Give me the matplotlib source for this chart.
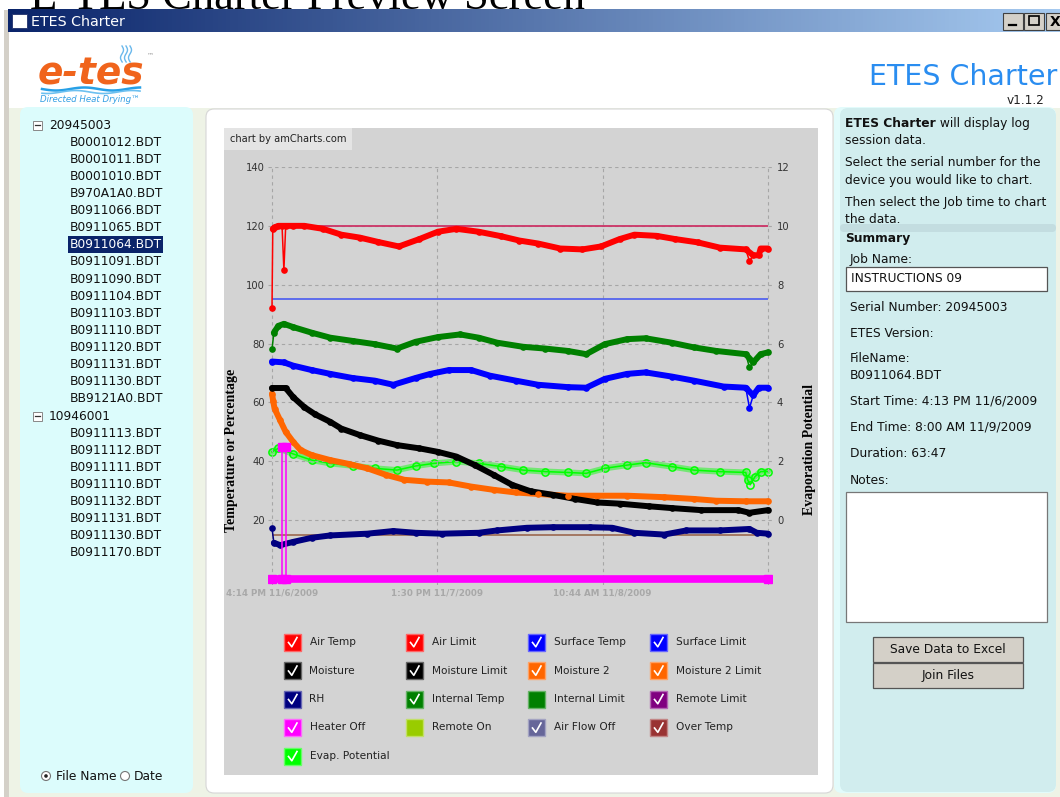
import numpy as np
import matplotlib.pyplot as plt
from matplotlib.patches import Rectangle, FancyBboxPatch, Circle
from matplotlib.colors import LinearSegmentedColormap, to_rgb

plt.rcParams['font.family'] = ['DejaVu Sans']

# time axis in hours after 4:14 PM 11/6/2009
x_ticks = [0, 21.27, 42.5, 63.77]
x_labels = ['4:14 PM 11/6/2009', '1:30 PM 11/7/2009', '10:44 AM 11/8/2009', '']
left_ticks = [20, 40, 60, 80, 100, 120, 140]
right_ticks = [0, 2, 4, 6, 8, 10, 12]

# series
air_t = [0, 0.1, 0.33, 0.81, 1.29, 1.53, 1.76, 2.72, 4.15, 6.53, 8.92, 11.3, 13.69, 16.31, 18.94, 21.32, 23.71, 26.57,
         29.43, 31.82, 34.2, 37.06, 39.92, 42.31, 44.69, 46.6, 49.46, 51.85, 54.71, 57.57, 60.91, 61.39, 61.87, 62.58,
         62.82, 63.77]
air_temp = [92, 119, 119.5, 120, 120, 105, 120, 120, 120, 119, 117, 116, 114.5, 113, 115.5, 118, 119, 118, 116.5, 115,
            114, 112.3, 112, 113, 115.5, 117, 116.6, 115.5, 114.4, 112.6, 112, 108, 110, 110, 112.3, 112.3]

int_t = [0, 0.24, 0.81, 1.53, 2.72, 5.1, 7.49, 10.35, 13.21, 16.07, 18.46, 21.32, 24.18, 26.57, 28.95, 32.29, 35.15,
         38.02, 40.4, 42.79, 45.65, 48.03, 51.37, 54.24, 57.1, 60.91, 61.39, 61.87, 62.82, 63.77]
internal_temp = [78, 83.7, 86, 86.7, 85.6, 83.7, 82, 80.9, 79.8, 78.3, 80.6, 82.2, 83.1, 82, 80.3, 78.9, 78.3, 77.5,
                 76.4, 79.8, 81.5, 81.8, 80.3, 78.7, 77.5, 76.4, 71.9, 73.6, 76.4, 77]

surf_t = [0, 1.53, 2.72, 5.1, 7.49, 10.35, 13.21, 15.6, 18.46, 20.37, 22.75, 25.61, 28, 31.34, 34.2, 38.02, 40.4,
          42.79, 45.65, 48.03, 51.37, 54.24, 58.05, 60.91, 61.39, 61.87, 62.58, 63.77]
surface_temp = [73.9, 73.6, 72.5, 71, 69.7, 68.3, 67.4, 66, 68.3, 69.7, 71, 71, 69.1, 67.4, 66, 65.2, 65, 68, 69.7,
                70.2, 68.8, 67.4, 65.4, 65, 58.1, 62.4, 65, 65]

moist_t = [0, 1.76, 2.72, 4.15, 5.58, 7.49, 8.92, 11.3, 13.69, 16.07, 18.94, 21.32, 23.71, 26.09, 28.48, 30.86, 33.25,
           36.11, 38.97, 41.83, 44.69, 48.51, 51.37, 55.19, 59.96, 61.39, 63.77]
moisture = [64.9, 64.9, 61.8, 58.4, 55.9, 53.4, 51.1, 48.9, 47, 45.5, 44.4, 43.2, 41.6, 38.7, 35.4, 32, 29.8, 28.6,
            27.2, 26, 25.6, 24.7, 24.1, 23.4, 23.4, 22.5, 23.4]

m2_t = [0, 0.15, 0.33, 1.05, 1.76, 2.72, 3.67, 5.1, 7.49, 9.87, 12.26, 14.64, 17.03, 19.89, 22.75, 25.61, 28.48,
        31.34, 34.2, 38.02, 41.83, 45.65, 50.42, 54.24, 57.1, 60.91, 63.77]
moisture2 = [63, 60.5, 57.9, 53.9, 50, 46.6, 43.8, 42.1, 40.4, 39.1, 37.6, 35.4, 33.7, 33.1, 32.8, 31.4, 30.3, 29.4,
             28.9, 28.3, 28.3, 28.3, 27.8, 27.2, 26.6, 26.4, 26.4]

rh_t = [0, 0.24, 1.05, 2.72, 5.1, 7.49, 12.26, 15.6, 18.46, 21.8, 26.57, 28.95, 32.77, 36.11, 40.88, 43.74, 46.6,
        50.42, 53.28, 57.57, 61.39, 62.34, 63.77]
rh = [17.4, 12.3, 11.5, 12.6, 14, 14.8, 15.4, 16.3, 15.7, 15.4, 15.7, 16.5, 17.4, 17.6, 17.6, 17.4, 15.7, 15.1, 16.5,
      16.5, 17, 15.7, 15.4]

evap_t = [0, 0.81, 2.72, 5.1, 7.49, 10.35, 13.21, 16.07, 18.46, 20.84, 23.71, 26.57, 29.43, 32.29, 35.15, 38.02, 40.4,
          42.79, 45.65, 48.03, 51.37, 54.24, 57.57, 60.91, 61.15, 61.48, 62.1, 62.82, 63.77]
evap = [2.32, 2.44, 2.25, 2.04, 1.93, 1.85, 1.76, 1.7, 1.84, 1.93, 1.99, 1.93, 1.82, 1.7, 1.65, 1.62, 1.59, 1.76,
        1.87, 1.95, 1.82, 1.7, 1.65, 1.62, 1.37, 1.2, 1.48, 1.65, 1.65]

heater_t = [0, 1.3, 1.3, 1.75, 1.75, 63.77]
heater_off = [0, 0, 45, 45, 0, 0]

air_limit = 120
surface_limit = 95
over_temp = 15

legend_labels = ['Air Temp', 'Air Limit', 'Surface Temp', 'Surface Limit',
                 'Moisture', 'Moisture Limit', 'Moisture 2', 'Moisture 2 Limit',
                 'RH', 'Internal Temp', 'Internal Limit', 'Remote Limit',
                 'Heater Off', 'Remote On', 'Air Flow Off', 'Over Temp',
                 'Evap. Potential']
legend_colors = ['#ff0000', '#ff0000', '#0000ff', '#0000ff',
                 '#000000', '#000000', '#ff6600', '#ff6600',
                 '#000080', '#008000', '#008000', '#800080',
                 '#ff00ff', '#99cc00', '#666699', '#993333',
                 '#00ff00']
legend_checked = [1, 1, 1, 1, 1, 1, 1, 1, 1, 1, 0, 1, 1, 0, 1, 1, 1]

serial_a = '20945003'
files_a = ['B0001012.BDT', 'B0001011.BDT', 'B0001010.BDT', 'B970A1A0.BDT', 'B0911066.BDT', 'B0911065.BDT',
           'B0911064.BDT', 'B0911091.BDT', 'B0911090.BDT', 'B0911104.BDT', 'B0911103.BDT', 'B0911110.BDT',
           'B0911120.BDT', 'B0911131.BDT', 'B0911130.BDT', 'BB9121A0.BDT']
serial_b = '10946001'
files_b = ['B0911113.BDT', 'B0911112.BDT', 'B0911111.BDT', 'B0911110.BDT', 'B0911132.BDT', 'B0911131.BDT',
           'B0911130.BDT', 'B0911170.BDT']
selected_file = 'B0911064.BDT'

W, H = 1060, 797
FS = 8.8  # ui font size


def lone_points(v, tol):
    # single outlying readings get a thin line instead of the thick band
    v = np.asarray(v, float)
    lone = np.zeros(len(v), bool)
    lone[0] = abs(v[0] - v[1]) > 2.5 * tol
    for i in range(1, len(v) - 1):
        a, b = v[i] - v[i - 1], v[i] - v[i + 1]
        lone[i] = a * b > 0 and min(abs(a), abs(b)) > tol
    return lone


def draw_series(axis, t, v, color, tol=1.6, hollow=False):
    t = np.asarray(t, float)
    v = np.asarray(v, float)
    keep = ~lone_points(v, tol)
    axis.plot(t, v, color=color, lw=1.1, zorder=3)
    if hollow:
        axis.plot(t[keep], v[keep], color=color, lw=4.4, alpha=0.45, solid_capstyle='round', zorder=3)
        axis.plot(t, v, ls='none', marker='o', ms=5.2, mfc='none', mec=color, mew=1.1, zorder=4)
    else:
        axis.plot(t[keep], v[keep], color=color, lw=4.3, solid_capstyle='round', solid_joinstyle='round', zorder=3)
        axis.plot(t, v, ls='none', marker='o', ms=4.8, mew=0, color=color, zorder=4)


def lighter(c, f=0.4):
    r, g, b = to_rgb(c)
    return (r + (1 - r) * f, g + (1 - g) * f, b + (1 - b) * f)


fig = plt.figure(figsize=(W / 100, H / 100), dpi=100)
bg = fig.add_axes([0, 0, 1, 1])
bg.set_xlim(0, W)
bg.set_ylim(H, 0)
bg.axis('off')

# page heading, mostly hidden behind the window
bg.text(30, 8.5, 'E-TES Charter Preview Screen', family='Liberation Serif', fontsize=32, va='baseline', zorder=1)

# window frame and body
bg.add_patch(Rectangle((4, 9.5), W - 4, H, fc='#d4d0c8', ec='none', zorder=2))
bg.add_patch(Rectangle((9, 32), W - 9, H, fc='#eef3e6', ec='none', zorder=2))
bg.add_patch(Rectangle((9, 32), W - 9, 76, fc='white', ec='none', zorder=2))

# title bar
tb = LinearSegmentedColormap.from_list('tb', ['#0a246a', '#a6caf0'])
bg.imshow(np.linspace(0, 1, 256)[None, :], cmap=tb, extent=(8, W, 32, 9.5), aspect='auto', zorder=2)
bg.add_patch(Rectangle((12, 13.5), 15, 14, fc='white', ec='#20306a', lw=0.6, zorder=3))
bg.text(31, 21.5, 'ETES Charter', color='white', fontsize=10.3, va='center', zorder=3)
for x0 in (1003, 1024, 1046):
    bg.add_patch(Rectangle((x0, 12.5), 20, 17, fc='#d4d0c8', ec='#404040', lw=0.8, zorder=3))
bg.plot([1009, 1016], [25, 25], color='black', lw=1.6, zorder=4)
bg.add_patch(Rectangle((1029, 16), 10, 9, fc='none', ec='black', lw=1.2, zorder=4))
bg.text(1050, 21.5, 'X', fontsize=10, fontweight='bold', va='center', zorder=4)

# logo
bg.text(38, 74, 'e-tes', fontsize=27, fontweight='bold', style='italic', color='#f0641c', va='center', zorder=3)
wx = np.linspace(42, 140, 60)
bg.plot(wx, 89 + 1.5 * np.sin((wx - 42) / 9), color='#27a0e6', lw=1.8, zorder=3)
bg.plot(wx, 92 + 1.5 * np.sin((wx - 42) / 9 + 1), color='#6cc0f0', lw=1.2, zorder=3)
for dx in (0, 4, 8):
    sy = np.linspace(46, 62, 20)
    bg.plot(122 + dx + 1.5 * np.sin((sy - 46) / 2.5), sy, color='#6ab8ec', lw=1, zorder=3)
bg.text(147, 57, '™', fontsize=5, color='#999', zorder=3)
bg.text(40, 99.5, 'Directed Heat Drying™', fontsize=6.2, style='italic', color='#36a0e4', va='center', zorder=3)

# heading right
bg.text(1057, 77, 'ETES Charter', ha='right', va='center', fontsize=20.5, color='#2a8df0', zorder=3)
bg.text(1045, 100, 'v1.1.2', ha='right', va='center', fontsize=8.7, color='#222', zorder=3)

# left panel with the file tree
bg.add_patch(FancyBboxPatch((20, 107), 173, 686, boxstyle='round,pad=0,rounding_size=8',
                            fc='#dcfcfc', ec='none', zorder=2))
rows = [(serial_a, True)] + [(f, False) for f in files_a] + [(serial_b, True)] + [(f, False) for f in files_b]
for i, (name, is_serial) in enumerate(rows):
    y = 125 + i * 17.12
    if is_serial:
        bg.add_patch(Rectangle((33, y - 4.5), 9, 9, fc='white', ec='#888', lw=0.7, zorder=3))
        bg.plot([35, 40], [y, y], color='#333', lw=0.9, zorder=4)
        bg.text(49, y, name, fontsize=FS, va='center', color='#111', zorder=4)
    else:
        col = '#111'
        if name == selected_file and i < len(files_a) + 1:
            bg.add_patch(Rectangle((68, y - 8.5), 95, 17, fc='#0a246a', ec='none', zorder=3))
            col = 'white'
        bg.text(70, y, name, fontsize=FS, va='center', color=col, zorder=4)

bg.add_patch(Circle((46, 776), 4.5, fc='white', ec='#777', lw=0.8, zorder=3))
bg.add_patch(Circle((46, 776), 1.8, fc='#222', ec='none', zorder=4))
bg.text(56, 777, 'File Name', fontsize=FS, va='center', color='#111', zorder=4)
bg.add_patch(Circle((125, 776), 4.5, fc='white', ec='#777', lw=0.8, zorder=3))
bg.text(134, 777, 'Date', fontsize=FS, va='center', color='#111', zorder=4)

# chart card
bg.add_patch(FancyBboxPatch((206, 109), 627, 684, boxstyle='round,pad=0,rounding_size=8',
                            fc='white', ec='#d6d6d6', lw=0.8, zorder=2))
bg.add_patch(Rectangle((224, 128), 594, 647, fc='#d3d3d3', ec='none', zorder=2))
bg.add_patch(Rectangle((224, 128), 128, 22, fc='#e4e4e4', ec='none', zorder=3))
bg.text(230, 139, 'chart by amCharts.com', fontsize=7.1, va='center', color='#222', zorder=4)

# legend
for i, (lab, c, chk) in enumerate(zip(legend_labels, legend_colors, legend_checked)):
    x0 = 284 + (i % 4) * 122
    yc = 642 + (i // 4) * 28.5
    bg.add_patch(Rectangle((x0, yc - 8.5), 17, 17, fc=c, ec=lighter(c), lw=1, zorder=3))
    if chk:
        bg.plot([x0 + 4.5, x0 + 7.8, x0 + 13], [yc + 0.5, yc + 4.8, yc - 4.5], color='white', lw=1.2, zorder=4)
    bg.text(x0 + 25.5, yc, lab, fontsize=7.6, va='center', color='#222', zorder=4)

# right panel
bg.add_patch(FancyBboxPatch((834, 107), 222, 686, boxstyle='round,pad=0,rounding_size=8',
                            fc='#e2fbfb', ec='none', zorder=2))
bg.add_patch(FancyBboxPatch((840, 108), 216, 684, boxstyle='round,pad=0,rounding_size=8',
                            fc='#d1edee', ec='none', zorder=2))
bg.add_patch(FancyBboxPatch((840, 224), 216, 8, boxstyle='round,pad=0,rounding_size=4',
                            fc='#c3dde0', ec='none', zorder=3))
t1 = bg.text(845, 123, 'ETES Charter', fontsize=FS, fontweight='bold', va='center', color='#111', zorder=4)
bg.annotate(' will display log', xy=(1, 0.5), xycoords=t1, va='center', fontsize=FS, color='#111', zorder=4)
for y, s in [(140, 'session data.'), (162, 'Select the serial number for the'),
             (180, 'device you would like to chart.'), (202, 'Then select the Job time to chart'),
             (219, 'the data.')]:
    bg.text(845, y, s, fontsize=FS, va='center', color='#111', zorder=4)
bg.text(845, 238, 'Summary', fontsize=FS, fontweight='bold', va='center', color='#111', zorder=4)
bg.text(850, 260, 'Job Name:', fontsize=FS, va='center', color='#111', zorder=4)
bg.add_patch(Rectangle((846, 267), 201, 24, fc='white', ec='#555', lw=0.9, zorder=3))
bg.text(851, 279, 'INSTRUCTIONS 09', fontsize=FS, va='center', color='#111', zorder=4)
for y, s in [(307, 'Serial Number: 20945003'), (333, 'ETES Version:'), (358, 'FileName:'),
             (375, 'B0911064.BDT'), (401, 'Start Time: 4:13 PM 11/6/2009'),
             (427, 'End Time: 8:00 AM 11/9/2009'), (453, 'Duration: 63:47'), (480, 'Notes:')]:
    bg.text(850, y, s, fontsize=FS, va='center', color='#111', zorder=4)
bg.add_patch(Rectangle((846, 492), 201, 130, fc='white', ec='#777', lw=0.9, zorder=3))
for y, s in [(637, 'Save Data to Excel'), (663, 'Join Files')]:
    bg.add_patch(Rectangle((873, y), 150, 25, fc='#d4d0c8', ec='#555', lw=0.9, zorder=3))
    bg.text(948, y + 12.5, s, fontsize=FS, ha='center', va='center', color='#111', zorder=4)

# chart
x_end = x_ticks[-1]
ax = fig.add_axes([268 / W, (H - 585) / H, 504 / W, 418 / H])
ax.set_xlim(-0.514, x_end + 0.514)
ax.set_ylim(-2.04, 140)
ax2 = ax.twinx()
ax2.set_ylim((-2.04 - 20) / 10, 12)
ax.set_zorder(ax2.get_zorder() + 1)
ax.patch.set_visible(False)
ax2.patch.set_visible(False)
for a in (ax, ax2):
    for s in a.spines.values():
        s.set_visible(False)

ax.set_xticks(x_ticks)
ax.set_xticklabels(x_labels, fontweight='bold')
ax.set_yticks(left_ticks)
ax2.set_yticks(right_ticks)
ax.tick_params(axis='x', length=0, labelsize=6.3, labelcolor='#a8a8a8', pad=2.5)
ax.tick_params(axis='y', length=0, labelsize=7.2, labelcolor='#333', pad=2.2)
ax2.tick_params(axis='y', length=0, labelsize=7.2, labelcolor='#333', pad=3.6)
ax.grid(True, color='#a6a6a6', ls=(0, (3, 3)), lw=0.8)
ax.set_axisbelow(True)

ax.set_ylabel('Temperature or Percentage', family='Liberation Serif', fontweight='bold', fontsize=10)
ax.yaxis.set_label_coords(-0.0595, 0.323)
ax2.set_ylabel('Evaporation Potential', family='Liberation Serif', fontweight='bold', fontsize=10)
ax2.yaxis.set_label_coords(1.0615, 0.323)

ax.hlines(air_limit, 0, x_end, colors='#cc3366', lw=1.3, zorder=2)
ax.hlines(surface_limit, 0, x_end, colors='#4a5cf0', lw=1.2, zorder=2)
ax.hlines(over_temp, 0, x_end, colors='#a0705a', lw=1.3, zorder=2)

draw_series(ax2, evap_t, evap, '#00ff00', tol=0.16, hollow=True)
draw_series(ax, rh_t, rh, '#000080')
draw_series(ax, m2_t, moisture2, '#ff6600')
draw_series(ax, moist_t, moisture, '#000000')
draw_series(ax, surf_t, surface_temp, '#0000ff')
draw_series(ax, int_t, internal_temp, '#008000')
draw_series(ax, air_t, air_temp, '#ff0000')

h_t = np.asarray(heater_t, float)
h_v = np.asarray(heater_off, float)
ax.plot(h_t, np.where(h_v == 0, h_v, np.nan), color='#ff00ff', lw=5.5, solid_capstyle='round', zorder=5)
ax.plot(h_t, h_v, color='#ff00ff', lw=1.1, marker='s', ms=5.5, zorder=5)

fig.savefig('out.png', dpi=100)
